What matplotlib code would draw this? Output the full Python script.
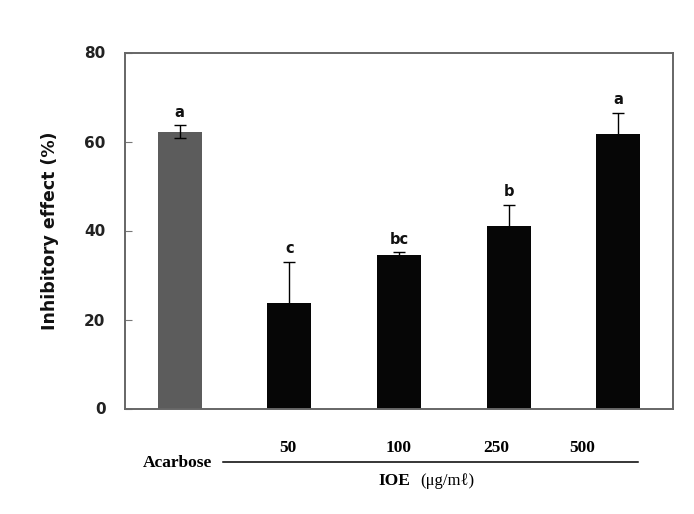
import matplotlib
matplotlib.use("Agg")
import matplotlib.pyplot as plt

categories = ["Acarbose", "50", "100", "250", "500"]
values = [62.2, 23.7, 34.6, 41.0, 61.6]
errors = [1.4, 9.2, 0.5, 4.8, 4.8]
letters = ["a", "c", "bc", "b", "a"]
bar_colors = ["#5c5c5c", "#060606", "#060606", "#060606", "#060606"]
yticks = [0, 20, 40, 60, 80]
ioe_labels = ["50", "100", "250", "500"]
ioe_label_x = [0.99, 2.0, 2.89, 3.67]

fig = plt.figure(figsize=(6.94, 5.14), dpi=100)
ax = fig.add_axes([125/694, 1-408.5/514, (673-125)/694, (408.5-52.5)/514])

x = list(range(len(categories)))
ax.bar(x, values, width=0.4, color=bar_colors, edgecolor="none", zorder=2)
for i, (xi, v, e) in enumerate(zip(x, values, errors)):
    ax.errorbar([xi], [v], yerr=[e], fmt="none", ecolor="black", elinewidth=1.0,
                capsize=4, capthick=1.0, zorder=3 if i == 0 else 1)
for xi, v, e, l in zip(x, values, errors, letters):
    ax.text(xi, v + e + 1.3, l, ha="center", va="bottom", fontsize=10.5,
            fontweight="bold", family="DejaVu Sans", color="#111111")

ax.set_xlim(-0.5, 4.5)
ax.set_ylim(0, 80)
ax.set_yticks(yticks)
ax.set_yticklabels([str(t) for t in yticks], fontsize=11, fontweight="bold",
                   family="DejaVu Sans", color="#222222")
ax.tick_params(axis="y", direction="in", length=5, width=0.8, color="#777777", pad=14)
ax.set_xticks([])
for s in ax.spines.values():
    s.set_color("#666666")
    s.set_linewidth(1.4)
    s.set_zorder(4)
ax.set_ylabel("Inhibitory effect (%)", fontsize=12.5, fontweight="bold",
              family="DejaVu Sans", labelpad=18, color="#111111")

# x-axis category annotations below the plot
trans = ax.get_xaxis_transform()
for lx, lab in zip(ioe_label_x, ioe_labels):
    ax.text(lx, -0.11, lab, transform=trans, ha="center", va="center",
            fontsize=12.5, fontweight="bold", family="Liberation Serif")
fig.text(177.5/694, 1-463/514, categories[0], ha="center", va="center",
         fontsize=12.5, fontweight="bold", family="Liberation Serif")
fig.add_artist(plt.Line2D([223/694, 638/694], [1-462/514, 1-462/514],
                          color="black", linewidth=1.1, transform=fig.transFigure))
fig.text(410/694, 1-481/514, "IOE", ha="right", va="center",
         fontsize=12.5, fontweight="bold", family="Liberation Serif")
fig.text(420/694, 1-481/514, "(\u03bcg/m\u2113)", ha="left", va="center",
         fontsize=12, family="Liberation Serif")

fig.savefig("out.png", dpi=100)
